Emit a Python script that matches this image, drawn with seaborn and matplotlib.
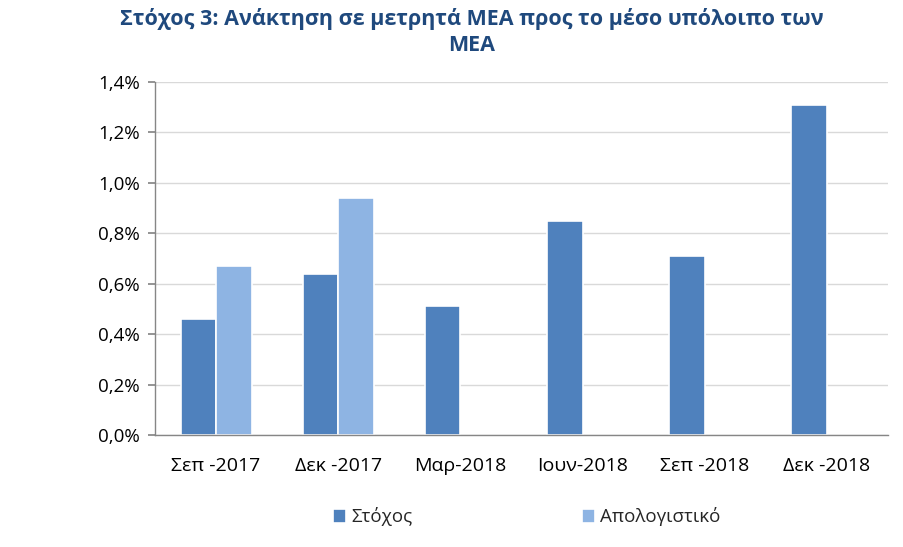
import matplotlib
matplotlib.use("Agg")
import matplotlib.pyplot as plt
import seaborn as sns
import pandas as pd
import numpy as np
from matplotlib.ticker import FuncFormatter, FixedLocator

categories = ["Σεπ -2017", "Δεκ -2017", "Μαρ-2018", "Ιουν-2018", "Σεπ -2018", "Δεκ -2018"]
stoxos = [0.46, 0.64, 0.51, 0.85, 0.71, 1.31]
apologistiko = [0.67, 0.94, np.nan, np.nan, np.nan, np.nan]
series_names = ["Στόχος", "Απολογιστικό"]
colors = ["#4F81BD", "#8EB4E3"]
title = "Στόχος 3: Ανάκτηση σε μετρητά ΜΕΑ προς το μέσο υπόλοιπο των\nΜΕΑ"

df = pd.DataFrame({
    "cat": categories * 2,
    "series": [series_names[0]] * 6 + [series_names[1]] * 6,
    "value": stoxos + apologistiko,
})

sns.set_theme(style="white")
plt.rcParams["font.family"] = ["Open Sans", "DejaVu Sans"]

fig = plt.figure(figsize=(9.04, 5.47), dpi=100)
ax = fig.add_axes([155/904, 1 - 435/547, (888-155)/904, (435-82)/547])

sns.barplot(data=df, x="cat", y="value", hue="series", order=categories,
            hue_order=series_names, palette=colors, width=0.58,
            edgecolor="white", linewidth=1.2, saturation=1, ax=ax, legend=True)

ax.set_ylim(0, 1.4)
ax.set_xlim(-0.5, 5.5)
ax.yaxis.set_major_locator(FixedLocator(np.arange(0, 1.41, 0.2)))
ax.yaxis.set_major_formatter(FuncFormatter(lambda v, p: f"{v:.1f}%".replace(".", ",")))
ax.grid(axis="y", color="#D9D9D9", linewidth=1)
ax.set_axisbelow(True)
ax.set_xlabel("")
ax.set_ylabel("")
for s in ["top", "right"]:
    ax.spines[s].set_visible(False)
for s in ["left", "bottom"]:
    ax.spines[s].set_color("#868686")
    ax.spines[s].set_linewidth(1)

ax.set_xticks(range(6))
ax.set_xticklabels(categories, fontsize=14)
ax.tick_params(axis="x", length=0, pad=16)
ax.set_xticks(np.arange(-0.5, 6, 1), minor=True)
ax.tick_params(axis="x", which="minor", length=5, color="#868686", direction="out")
ax.tick_params(axis="y", labelsize=13.5, length=5, color="#868686", direction="out", left=True, pad=6)
for lab in ax.get_xticklabels() + ax.get_yticklabels():
    lab.set_color("#000000")

handles, labels = ax.get_legend_handles_labels()
ax.get_legend().remove()
fig.legend(handles, labels, loc="center", bbox_to_anchor=(527/904, 1 - 517/547), ncol=2,
           frameon=False, fontsize=13.5, columnspacing=9.0, handlelength=0.7,
           handleheight=0.7, handletextpad=0.3)

fig.text(472/904, 1 - 8/547, title, ha="center", va="top", fontsize=15.5, fontweight="bold",
         color="#1F497D", linespacing=1.3)

fig.savefig("out.png", dpi=100)
